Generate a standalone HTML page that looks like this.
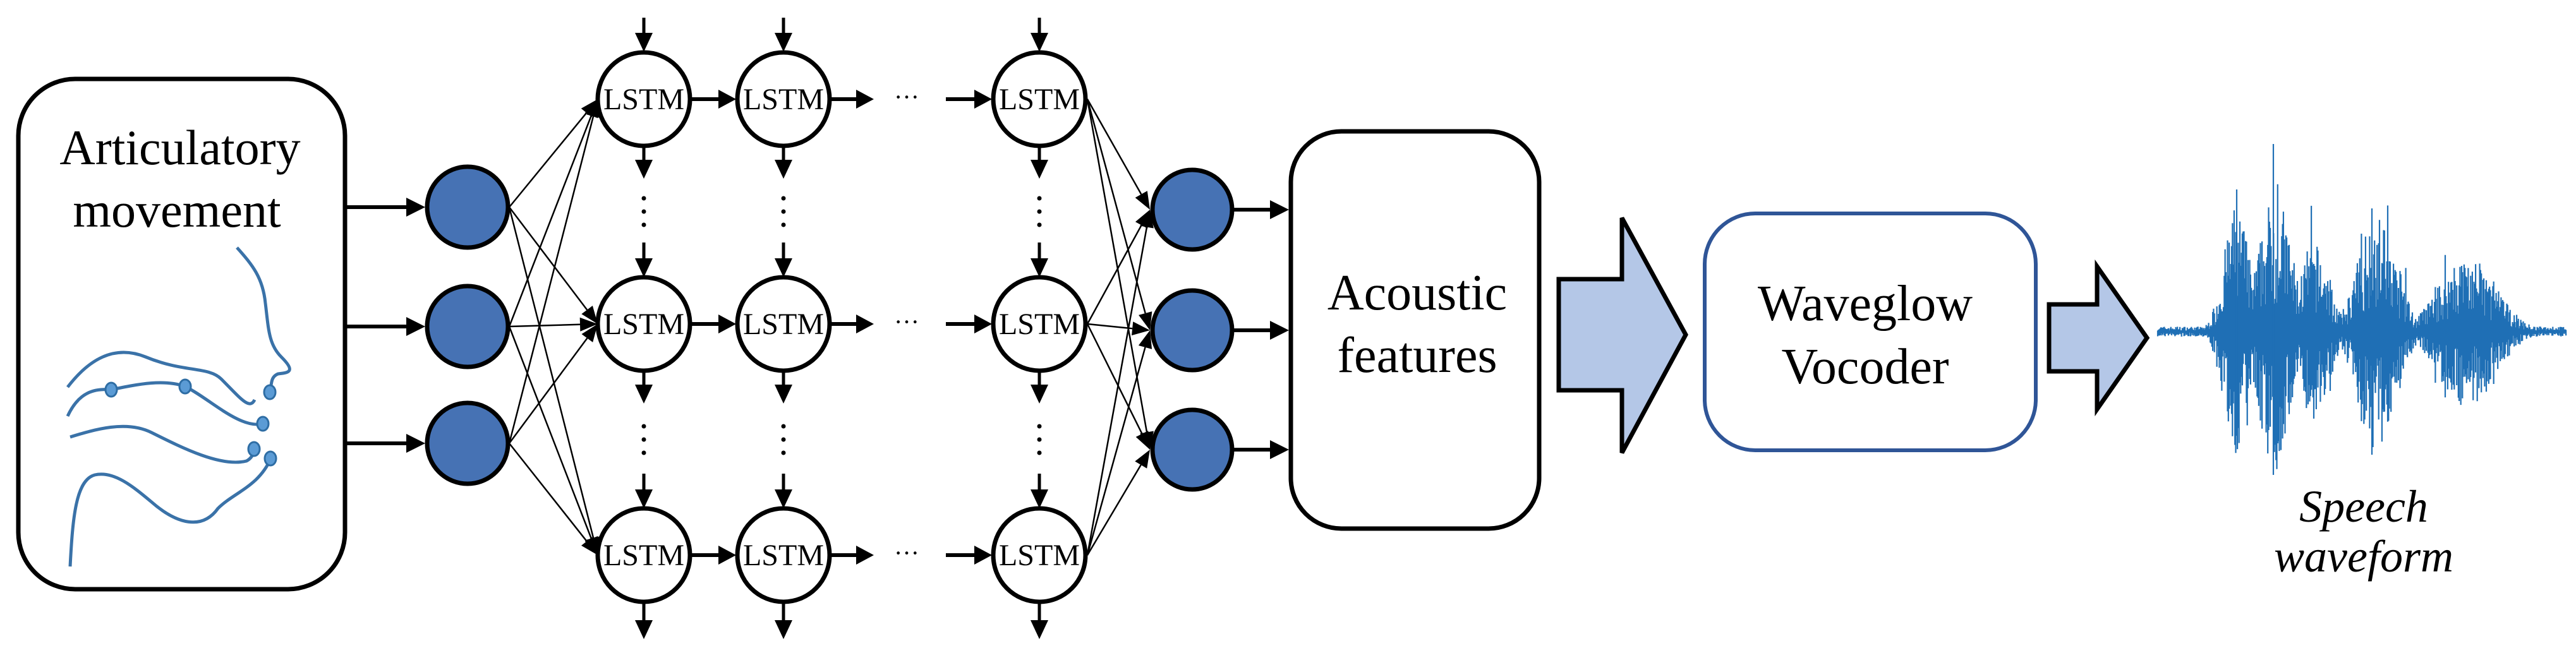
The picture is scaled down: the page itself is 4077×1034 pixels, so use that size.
<!DOCTYPE html>
<html><head><meta charset="utf-8"><style>
html,body{margin:0;padding:0;background:#fff;}
#wrap{position:relative;width:4077px;height:1034px;overflow:hidden;}
svg{display:block;position:absolute;left:0;top:0;}
.lb{position:absolute;font-family:"Liberation Serif",serif;color:#000;text-align:center;white-space:nowrap;line-height:1;transform:translateX(-50%);}
</style></head><body>
<div id="wrap">
<svg id="s" width="4077" height="1034" viewBox="0 0 4077 1034" xmlns="http://www.w3.org/2000/svg">
<rect x="29" y="125" width="517" height="808" rx="90" ry="90" fill="#fff" stroke="#000" stroke-width="7"/>
<g fill="none" stroke="#3a72a8" stroke-width="5">
<path d="M375,392 C400,420 416,440 420,480 C425,520 425,545 445,565 C470,590 455,590 440,592 C430,596 430,605 429,610"/>
<path d="M107,613 C140,570 180,545 230,565 C290,590 330,580 350,600 C380,630 395,650 403,633"/>
<path d="M107,659 C125,620 150,615 176,617 C220,608 260,600 293,612 C330,630 380,680 416,671"/>
<path d="M111,692 C150,680 200,665 240,685 C290,710 350,740 390,730 C398,726 402,718 403,711"/>
<path d="M111,897 C115,820 120,760 150,752 C180,745 210,770 240,795 C280,830 320,840 345,805 C370,780 410,770 429,725"/>
</g>
<g fill="#5b9bd5" stroke="#2e6da4" stroke-width="3">
<ellipse cx="176" cy="617" rx="9" ry="11"/>
<ellipse cx="293" cy="612" rx="9" ry="11"/>
<ellipse cx="427" cy="621" rx="9" ry="11"/>
<ellipse cx="416" cy="671" rx="9" ry="11"/>
<ellipse cx="402" cy="711" rx="9" ry="11"/>
<ellipse cx="428" cy="726" rx="9" ry="11"/>
</g>
<g id="net"></g>
<rect x="2043" y="208" width="393" height="629" rx="80" ry="80" fill="#fff" stroke="#000" stroke-width="7"/>
<path d="M2467,442 L2567,442 L2567,345 L2668,530 L2567,717 L2567,618 L2467,618 Z" fill="#b4c7e7" stroke="#000" stroke-width="7"/>
<rect x="2698" y="338" width="524" height="375" rx="80" ry="80" fill="#fff" stroke="#2f5597" stroke-width="6"/>
<path d="M3243,482 L3319,482 L3319,422 L3398,535 L3319,648 L3319,588 L3243,588 Z" fill="#b4c7e7" stroke="#000" stroke-width="7"/>
<g id="wave" stroke="#1f6fb5" stroke-width="2.2" fill="none"></g>
</svg>
<div class="lb" style="left:285px;top:195px;font-size:78px;">Articulatory</div>
<div class="lb" style="left:280px;top:294px;font-size:78px;">movement</div>
<div class="lb" style="left:2243px;top:424px;font-size:80px;">Acoustic</div>
<div class="lb" style="left:2243px;top:523px;font-size:80px;">features</div>
<div class="lb" style="left:2952px;top:441px;font-size:80px;">Waveglow</div>
<div class="lb" style="left:2952px;top:541px;font-size:80px;">Vocoder</div>
<div class="lb" style="left:3741px;top:766px;font-size:72px;font-style:italic;">Speech</div>
<div class="lb" style="left:3741px;top:845px;font-size:72px;font-style:italic;">waveform</div>
</div>
<script>
var NS="http://www.w3.org/2000/svg";
var net=document.getElementById('net');
function el(t,a){var e=document.createElementNS(NS,t);for(var k in a)e.setAttribute(k,a[k]);net.appendChild(e);return e;}
function arrow(x1,y1,x2,y2,w,hl,hw){
  var dx=x2-x1,dy=y2-y1,L=Math.sqrt(dx*dx+dy*dy),ux=dx/L,uy=dy/L,px=-uy,py=ux;
  var bx=x2-ux*hl,by=y2-uy*hl;
  el('line',{x1:x1,y1:y1,x2:bx,y2:by,stroke:'#000','stroke-width':w});
  el('polygon',{points:x2+','+y2+' '+(bx+px*hw/2)+','+(by+py*hw/2)+' '+(bx-px*hw/2)+','+(by-py*hw/2),fill:'#000'});
}
var inY=[328,517,702], outY=[332,523,712];
var cols=[1019,1240,1645], rows=[157,513,879];
inY.forEach(function(y){arrow(546,y,673,y,6,30,30);});
inY.forEach(function(y){rows.forEach(function(r){arrow(806,y,946,r,2.5,28,22);});});
rows.forEach(function(r){outY.forEach(function(y){arrow(1721,r,1820,y,2.5,28,22);});});
outY.forEach(function(y){arrow(1953,y,2040,y,6,30,30);});
cols.forEach(function(cx){
  arrow(cx,28,cx,82,5,30,28);
  for(var i=0;i<2;i++){
    var yb=rows[i]+74, yt=rows[i+1]-74;
    arrow(cx,yb,cx,yb+52,5,30,28);
    var mid=(yb+yt)/2;
    [-21,0,21].forEach(function(d){el('circle',{cx:cx,cy:mid+d,r:3.5,fill:'#000'});});
    arrow(cx,yt-55,cx,yt,5,30,28);
  }
  arrow(cx,rows[2]+74,cx,1012,5,30,28);
});
rows.forEach(function(r){
  arrow(1094,r,1165,r,6,28,30);
  arrow(1315,r,1383,r,6,28,30);
  el('text',{x:1435,y:r+10,'font-size':40,'text-anchor':'middle','font-family':"'Liberation Serif', serif"}).textContent='\u00b7\u00b7\u00b7';
  arrow(1497,r,1570,r,6,28,30);
});
inY.forEach(function(y){el('circle',{cx:740,cy:y,r:64,fill:'#4672b4',stroke:'#000','stroke-width':7});});
outY.forEach(function(y){el('circle',{cx:1887,cy:y,r:63,fill:'#4672b4',stroke:'#000','stroke-width':7});});
cols.forEach(function(cx){rows.forEach(function(r){
  el('ellipse',{cx:cx,cy:r,rx:73,ry:74,fill:'#fff',stroke:'#000','stroke-width':7});
  var t=el('text',{x:cx,y:r+16,'font-size':48,'text-anchor':'middle','font-family':"'Liberation Serif', serif"});t.textContent='LSTM';
});});
var w=document.getElementById('wave');
var seed=7;function rnd(){seed=(seed*16807)%2147483647;return seed/2147483647;}
var bursts=[[3540,20,200],[3601,26,220],[3662,24,140],[3760,28,190],[3790,18,110],[3845,10,40],[3905,45,120]];
var d='';var cy=525;
for(var x=3415;x<=4062;x+=1.3){
  var a=8;
  bursts.forEach(function(b){var g=Math.exp(-Math.pow((x-b[0])/b[1],2)/2)*b[2];if(g>a)a=g;});
  var up=a*(0.2+0.8*rnd()), dn=a*(0.2+0.8*rnd());
  if(rnd()<0.04&&a>60){up*=1.5;dn*=1.5;}
  d+='M'+x.toFixed(1)+','+(cy-up).toFixed(1)+'V'+(cy+dn).toFixed(1);
}
var p=document.createElementNS(NS,'path');p.setAttribute('d',d);w.appendChild(p);
var sp=document.createElementNS(NS,'path');sp.setAttribute('d','M3598,228V752 M3540,300V690 M3754,330V720');w.appendChild(sp);
</script>
</body></html>
